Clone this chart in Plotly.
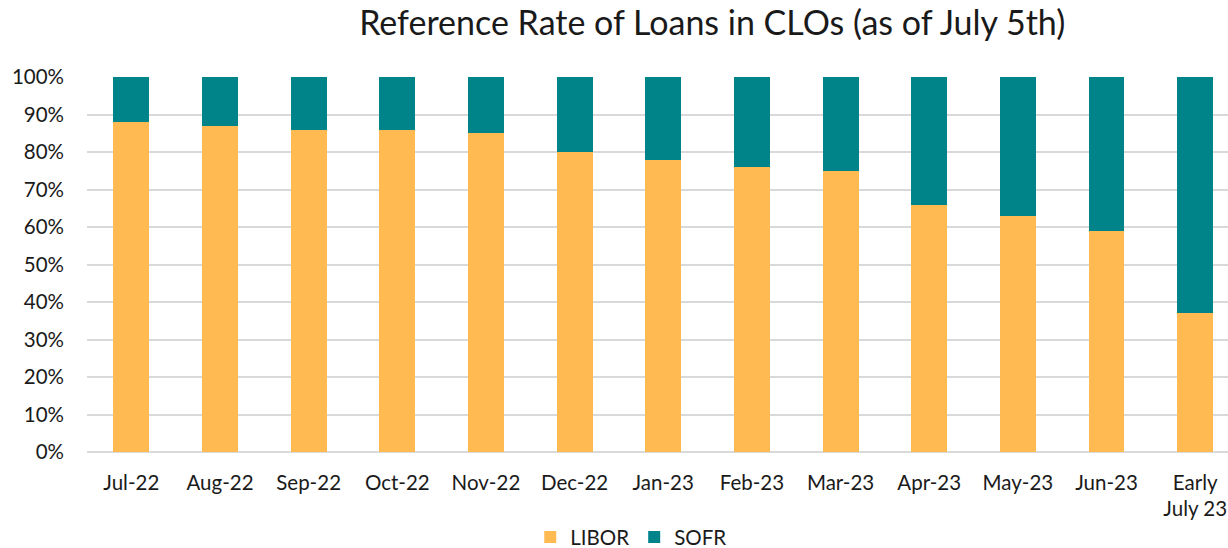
import plotly.graph_objects as go

categories = ["Jul-22", "Aug-22", "Sep-22", "Oct-22", "Nov-22", "Dec-22", "Jan-23",
              "Feb-23", "Mar-23", "Apr-23", "May-23", "Jun-23", "Early<br>July 23"]
libor = [88, 87, 86, 86, 85, 80, 78, 76, 75, 66, 63, 59, 37]
sofr = [100 - v for v in libor]

fig = go.Figure()
fig.add_trace(go.Bar(x=categories, y=libor, name="LIBOR", marker_color="#FFBA52",
                     marker_line_width=0))
fig.add_trace(go.Bar(x=categories, y=sofr, name="SOFR", marker_color="#00848A",
                     marker_line_width=0))

fig.update_layout(
    barmode="stack",
    bargap=0.595,
    width=1228, height=548,
    margin=dict(l=87, r=0, t=77, b=96, autoexpand=False),
    plot_bgcolor="white", paper_bgcolor="white",
    font=dict(family="Lato, Open Sans, sans-serif", size=20.5, color="#1a1a1a"),
    title=dict(text="Reference Rate of Loans in CLOs (as of July 5th)",
               x=0.58, xanchor="center", y=0.957, yanchor="middle",
               font=dict(size=34, color="#1a1a1a")),
    legend=dict(orientation="h", x=0.477, xanchor="center", y=-0.227, yanchor="middle",
                font=dict(size=20.5), traceorder="normal", itemwidth=30),
    showlegend=True,
)
fig.update_xaxes(range=[-0.5, 12.37], showgrid=False, showline=False, ticks="",
                 tickfont=dict(size=20.5), ticklabelstandoff=16, automargin=False)
fig.update_yaxes(range=[0, 100], dtick=10, ticksuffix="%", showgrid=True,
                 gridcolor="#D9D9D9", gridwidth=1.5, zeroline=True,
                 zerolinecolor="#D9D9D9", zerolinewidth=1.5,
                 tickfont=dict(size=20.5), ticklabelstandoff=22, automargin=False)

fig.write_html("out.html", config={"displayModeBar": False},
               post_script="document.body.style.margin='0px';")
